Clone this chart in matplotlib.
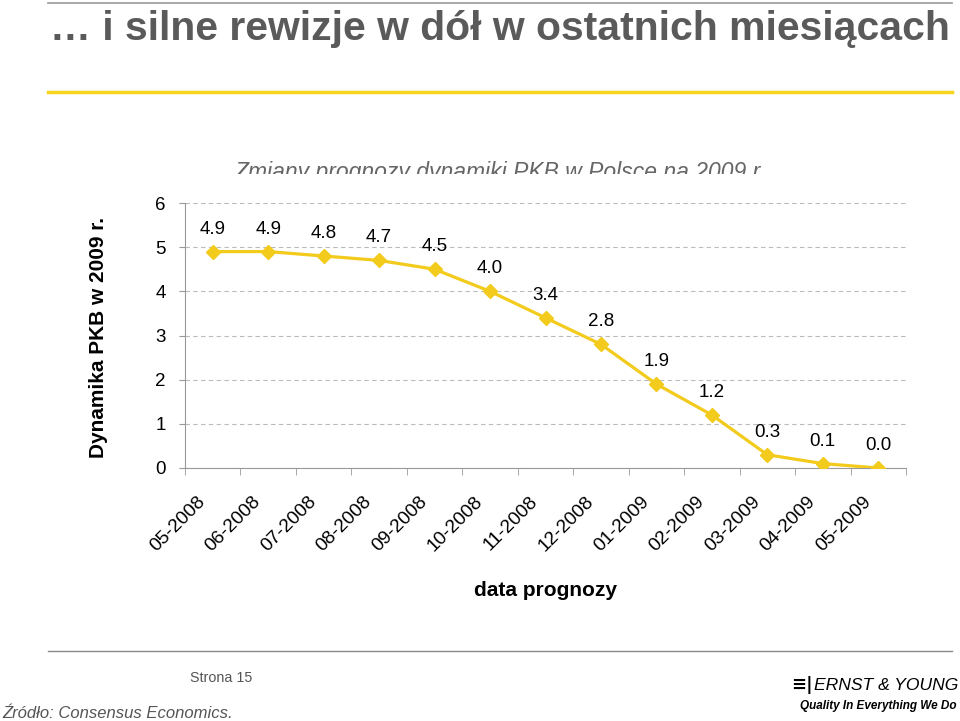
import matplotlib
matplotlib.use('Agg')
import matplotlib.pyplot as plt
import matplotlib.transforms as mtransforms
from matplotlib.lines import Line2D
from matplotlib.patches import Rectangle

months = ['05-2008', '06-2008', '07-2008', '08-2008', '09-2008', '10-2008', '11-2008',
          '12-2008', '01-2009', '02-2009', '03-2009', '04-2009', '05-2009']
gdp_forecast = [4.9, 4.9, 4.8, 4.7, 4.5, 4.0, 3.4, 2.8, 1.9, 1.2, 0.3, 0.1, 0.0]
y_ticks = [0, 1, 2, 3, 4, 5, 6]

YELLOW = '#F2CB1D'
GRAY = '#5A5A5A'

plt.rcParams['font.family'] = ['Liberation Sans', 'DejaVu Sans']

W, H = 960, 721
fig = plt.figure(figsize=(9.6, 7.21), dpi=100)


def fx(px):
    return px / W


def fy(py):
    return 1 - py / H


# header
fig.add_artist(Line2D([fx(48), fx(952)], [fy(3), fy(3)], color='#9A9A9A', lw=1.2))
fig.text(fx(50), fy(40), '\u2026 i silne rewizje w dół w ostatnich miesiącach',
         fontweight='bold', fontsize=29.4, color=GRAY, va='baseline', ha='left')
fig.add_artist(Line2D([fx(48), fx(952)], [fy(92), fy(92)], color='#F7D51E', lw=2.5))

# chart title (cut off at the bottom like in the slide)
t = fig.text(fx(500), fy(179), 'Zmiany prognozy dynamiki PKB w Polsce na 2009 r.',
             fontsize=16.5, style='italic', color='#666666', ha='center', va='baseline')
clip = Rectangle((0, fy(174)), 1, 1, transform=fig.transFigure)
t.set_clip_path(clip)

ax = fig.add_axes([fx(185), fy(468), fx(906 - 185), (468 - 203) / H])
x = list(range(len(months)))
ax.plot(x, gdp_forecast, color=YELLOW, lw=2.3, marker='D', markersize=7.5,
        markerfacecolor=YELLOW, markeredgecolor=YELLOW, zorder=3)
for xi, v in zip(x, gdp_forecast):
    ax.annotate(f'{v:.1f}', (xi, v), xytext=(0, 13), textcoords='offset points',
                ha='center', va='baseline', fontsize=13.5, color='black')

ax.set_xlim(-0.5, len(months) - 0.5)
ax.set_ylim(0, 6)
ax.set_yticks(y_ticks)
ax.set_yticklabels([str(v) for v in y_ticks], fontsize=13.5)
ax.set_xticks(x)
ax.set_xticklabels(months, rotation=45, ha='right', va='top', rotation_mode='anchor',
                   fontsize=13.8)
ax.set_xticks([i - 0.5 for i in range(len(months) + 1)], minor=True)
ax.tick_params(axis='x', which='major', length=0, pad=18)
ax.tick_params(axis='x', which='minor', length=5, color='#999999', direction='out')
ax.tick_params(axis='y', length=4, color='#999999', pad=10)
# nudge the rotated month labels to the left (after tick_params, which resets them)
shift = mtransforms.ScaledTranslation(-16 / 100, 0, fig.dpi_scale_trans)
for lab in ax.get_xticklabels():
    lab.set_transform(lab.get_transform() + shift)
ax.grid(axis='y', linestyle=(0, (4, 3)), color='#BBBBBB', lw=0.8)
for s in ['top', 'right']:
    ax.spines[s].set_visible(False)
for s in ['left', 'bottom']:
    ax.spines[s].set_color('#999999')
    ax.spines[s].set_linewidth(0.8)
ax.set_axisbelow(True)

fig.text(fx(98), fy(337), 'Dynamika PKB w 2009 r.', rotation=90, fontsize=15,
         fontweight='bold', ha='center', va='center', color='black')
fig.text(fx(545), fy(591), 'data prognozy', fontsize=15, fontweight='bold',
         ha='center', va='center', color='black')

# footer
fig.add_artist(Line2D([fx(48), fx(952)], [fy(651), fy(651)], color='#8A8A8A', lw=1))
fig.text(fx(190), fy(678), 'Strona 15', fontsize=10.3, color='#555555', va='center', ha='left')
fig.text(fx(2), fy(713), 'Źródło: Consensus Economics.', fontsize=12, style='italic',
         color='#555555', va='center', ha='left')
fig.text(fx(813), fy(685), '\u2261|', fontsize=13, fontweight='bold', color='black',
         va='center', ha='right', family='DejaVu Sans')
fig.text(fx(958), fy(686), 'ERNST & YOUNG', fontsize=12.6, style='italic',
         color='black', va='center', ha='right')
fig.text(fx(956), fy(706), 'Quality In Everything We Do', fontsize=8.5, style='italic',
         fontweight='bold', color='black', va='center', ha='right')

fig.savefig('out.png', dpi=100)
